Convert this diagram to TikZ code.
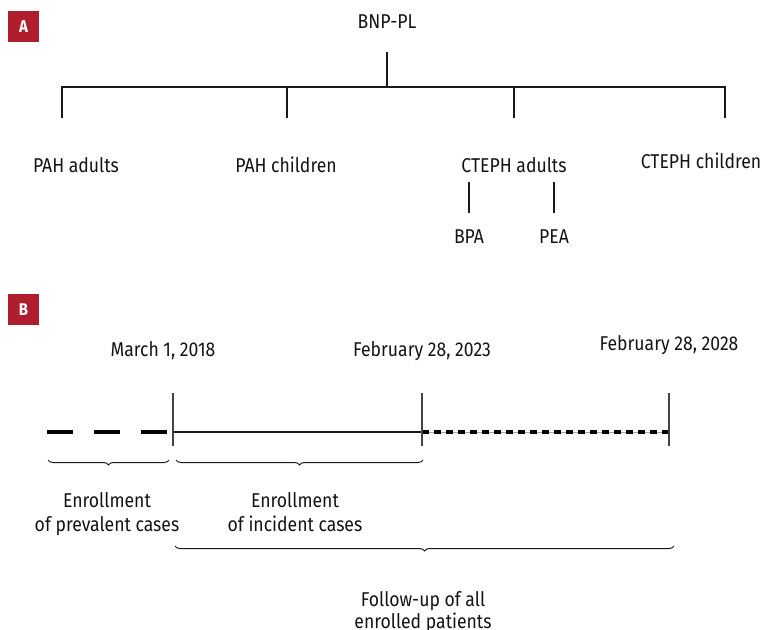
\documentclass[tikz,border=0pt]{standalone}
\usepackage{fontspec}
\setmainfont{Fira Sans}[FakeStretch=0.88]
\usetikzlibrary{decorations.pathreplacing}
\definecolor{labred}{HTML}{B01E2D}
\definecolor{tickgray}{HTML}{444444}
\tikzset{
  x=1pt,y=1pt,
  txt/.style={anchor=base, inner sep=0pt, font=\fontsize{20}{24}\selectfont, text=black!92},
  panel/.style={fill=labred, minimum size=31pt, inner sep=0pt, text=white, font=\bfseries\fontsize{17}{17}\selectfont},
  treeline/.style={line width=2.2pt, black!90},
  tick/.style={line width=1.1pt, tickgray},
  brc/.style={decorate, decoration={brace, mirror, amplitude=5pt}, line width=1pt, black!90},
}
\begin{document}
\begin{tikzpicture}
\useasboundingbox (0,0) rectangle (765,-629);
% panel labels
\node[panel] (pa) at (23.5,-26.5) {A};
\node[panel] (pb) at (23.5,-309.5) {B};
% tree
\node[txt] (root) at (387,-28) {BNP-PL};
\coordinate (stem) at (387,-52);
\coordinate (bar) at (387,-87);
\coordinate (j1) at (62,-87);
\coordinate (j2) at (287,-87);
\coordinate (j3) at (514,-87);
\coordinate (j4) at (725,-87);
\coordinate (e1) at (62,-118);
\coordinate (e2) at (287,-118);
\coordinate (e3) at (514,-118);
\coordinate (e4) at (725,-118);
\draw[treeline] (stem) -- (bar);
\draw[treeline] ([xshift=-1.1pt]j1) -- ([xshift=1.1pt]j4);
\draw[treeline] (j1) -- (e1);
\draw[treeline] (j2) -- (e2);
\draw[treeline] (j3) -- (e3);
\draw[treeline] (j4) -- (e4);
\node[txt] (pahad) at (76,-172) {PAH adults};
\node[txt] (pahch) at (286,-172) {PAH children};
\node[txt] (ctad) at (514,-172) {CTEPH adults};
\node[txt] (ctch) at (701,-168) {CTEPH children};
\coordinate (b1) at (469,-182);
\coordinate (b2) at (469,-213);
\coordinate (p1) at (554,-182);
\coordinate (p2) at (554,-213);
\draw[treeline] (b1) -- (b2);
\draw[treeline] (p1) -- (p2);
\node[txt] (bpa) at (469,-243) {BPA};
\node[txt] (pea) at (554,-243) {PEA};
% timeline
\node[txt] (d1) at (163,-356) {March 1, 2018};
\node[txt] (d2) at (422,-356) {February 28, 2023};
\node[txt] (d3) at (669,-350) {February 28, 2028};
\coordinate (t1a) at (173,-393); \coordinate (t1b) at (173,-446);
\coordinate (t2a) at (422,-393); \coordinate (t2b) at (422,-446);
\coordinate (t3a) at (669,-393); \coordinate (t3b) at (669,-446);
\coordinate (l0) at (47,-432);
\coordinate (l1) at (173,-432);
\coordinate (l2) at (422,-432);
\coordinate (l3) at (669,-432);
\draw[line width=4pt, black, dash pattern=on 26pt off 21pt] (l0) -- ([xshift=-5pt]l1);
\draw[line width=1.8pt, black!90] (l1) -- (l2);
\draw[line width=0.8pt, black!35] (l2) -- (l3);
\draw[line width=4pt, black, dash pattern=on 7pt off 5pt] (l2) -- (l3);
\draw[tick] (t1a) -- (t1b);
\draw[tick] (t2a) -- (t2b);
\draw[tick] (t3a) -- (t3b);
% braces
\coordinate (br1a) at (48,-460); \coordinate (br1b) at (169,-460);
\coordinate (br2a) at (176,-460); \coordinate (br2b) at (423,-460);
\coordinate (br3a) at (175,-546); \coordinate (br3b) at (674,-546);
\draw[brc] (br1a) -- (br1b);
\draw[brc] (br2a) -- (br2b);
\draw[brc] (br3a) -- (br3b);
\node[txt] (prev1) at (107,-507) {Enrollment};
\node[txt] (prev2) at (107,-531) {of prevalent cases};
\node[txt] (inc1) at (295,-507) {Enrollment};
\node[txt] (inc2) at (295,-531) {of incident cases};
\node[txt] (fu1) at (423,-606) {Follow-up of all};
\node[txt] (fu2) at (423,-628) {enrolled patients};
\end{tikzpicture}
\end{document}
